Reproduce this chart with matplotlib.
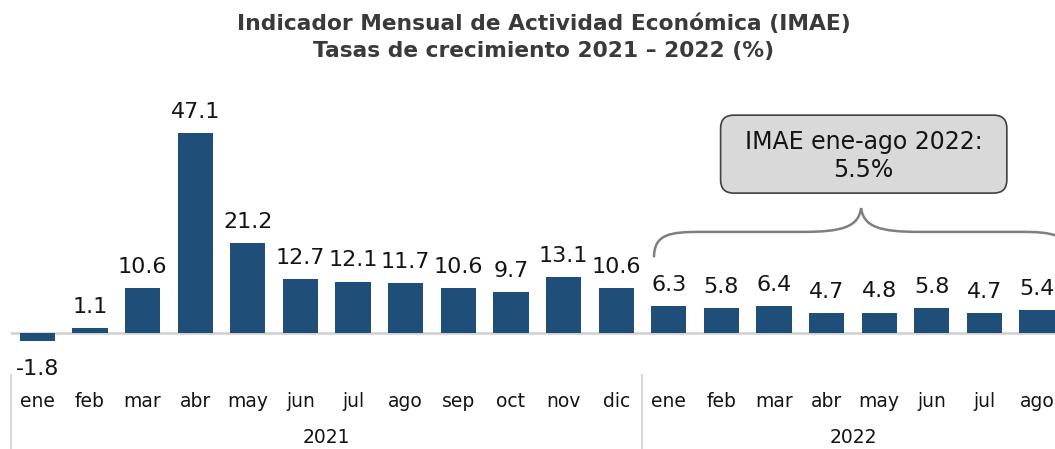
import matplotlib.pyplot as plt
from matplotlib.path import Path
from matplotlib.patches import PathPatch, FancyBboxPatch
from matplotlib.transforms import blended_transform_factory
import numpy as np

# data
months = ["ene", "feb", "mar", "abr", "may", "jun", "jul", "ago", "sep", "oct", "nov", "dic",
          "ene", "feb", "mar", "abr", "may", "jun", "jul", "ago"]
years = ["2021", "2022"]
months_per_year = [12, 8]
growth = [-1.8, 1.1, 10.6, 47.1, 21.2, 12.7, 12.1, 11.7, 10.6, 9.7, 13.1, 10.6,
          6.3, 5.8, 6.4, 4.7, 4.8, 5.8, 4.7, 5.4]
callout_text = "IMAE ene-ago 2022:\n5.5%"

plt.rcParams['font.family'] = ['DejaVu Sans']
bar_color = "#1F4E79"
text_color = "#141414"

fig = plt.figure(figsize=(10.55, 4.49), dpi=100)
ax = fig.add_axes([11 / 1055, 0.2205, 1 - 11 / 1055, 0.511])

x = np.arange(len(growth))
ax.bar(x, growth, width=0.67, color=bar_color, zorder=2)
ax.axhline(0, color="#d0d0d0", lw=1.8, zorder=1)
ax.set_xlim(-0.5, 19.34)
ax.set_ylim(-4, 50)
ax.axis("off")

for xi, v in zip(x, growth):
    if v >= 0:
        ax.annotate(f"{v:.1f}", (xi, v), xytext=(0, 11), textcoords="offset points",
                    ha="center", va="baseline", fontsize=16, color=text_color,
                    annotation_clip=False)
    else:
        ax.annotate(f"{v:.1f}", (xi, v), xytext=(0, -13), textcoords="offset points",
                    ha="center", va="top", fontsize=16, color=text_color,
                    annotation_clip=False)

# month and year labels below the axis
trans = blended_transform_factory(ax.transData, fig.transFigure)
for xi, m in zip(x, months):
    ax.text(xi, 0.1047, m, transform=trans, ha="center", va="center",
            fontsize=13.5, color=text_color, clip_on=False)

start = 0
for yr, n in zip(years, months_per_year):
    ax.text(start + (n - 1) / 2, 0.0245, yr, transform=trans, ha="center", va="center",
            fontsize=13.5, color=text_color, clip_on=False)
    ax.plot([start - 0.5, start - 0.5], [0, 0.165], transform=trans, color="#d9d9d9",
            lw=1.5, clip_on=False)
    start += n

# curly brace over 2022 (runs past the right edge, as in the source)
first, last = 12, 19
left, right = first - 0.28, last + 0.59
mid = (left + right) / 2
y0, y1, y2 = 17.8, 23.8, 29.4
verts = [(left, y0),
         (left, y1 - 0.5), (left + 0.3, y1), (left + 0.9, y1),
         (mid - 1.1, y1),
         (mid - 0.35, y1), (mid - 0.05, y1 + 1.2), (mid, y2),
         (mid + 0.05, y1 + 1.2), (mid + 0.35, y1), (mid + 1.1, y1),
         (right - 0.9, y1),
         (right - 0.3, y1), (right, y1 - 0.5), (right, y0)]
codes = [Path.MOVETO,
         Path.CURVE4, Path.CURVE4, Path.CURVE4,
         Path.LINETO,
         Path.CURVE4, Path.CURVE4, Path.CURVE4,
         Path.CURVE4, Path.CURVE4, Path.CURVE4,
         Path.LINETO,
         Path.CURVE4, Path.CURVE4, Path.CURVE4]
ax.add_patch(PathPatch(Path(verts, codes), fill=False, edgecolor="#7f7f7f", lw=1.8,
                       clip_on=False))

# callout box
box_w, box_h, box_yc = 5.44, 18.35, 42.1
box_x = mid + 0.05
ax.add_patch(FancyBboxPatch((box_x - box_w / 2, box_yc - box_h / 2), box_w, box_h,
                            boxstyle="round,pad=0,rounding_size=0.25",
                            mutation_aspect=12.4, fc="#d9d9d9", ec="#404040",
                            lw=1.2, clip_on=False, zorder=3))
ax.text(box_x, box_yc - 0.5, callout_text, ha="center", va="center", fontsize=17,
        color=text_color, linespacing=1.2, clip_on=False, zorder=4)

fig.text(544 / 1055, 0.917, "Indicador Mensual de Actividad Económica (IMAE)\n"
         "Tasas de crecimiento 2021 – 2022 (%)", ha="center", va="center",
         fontsize=15.7, fontweight="bold", color="#3a3a3a", linespacing=1.4)

fig.savefig("out.png", dpi=100)
